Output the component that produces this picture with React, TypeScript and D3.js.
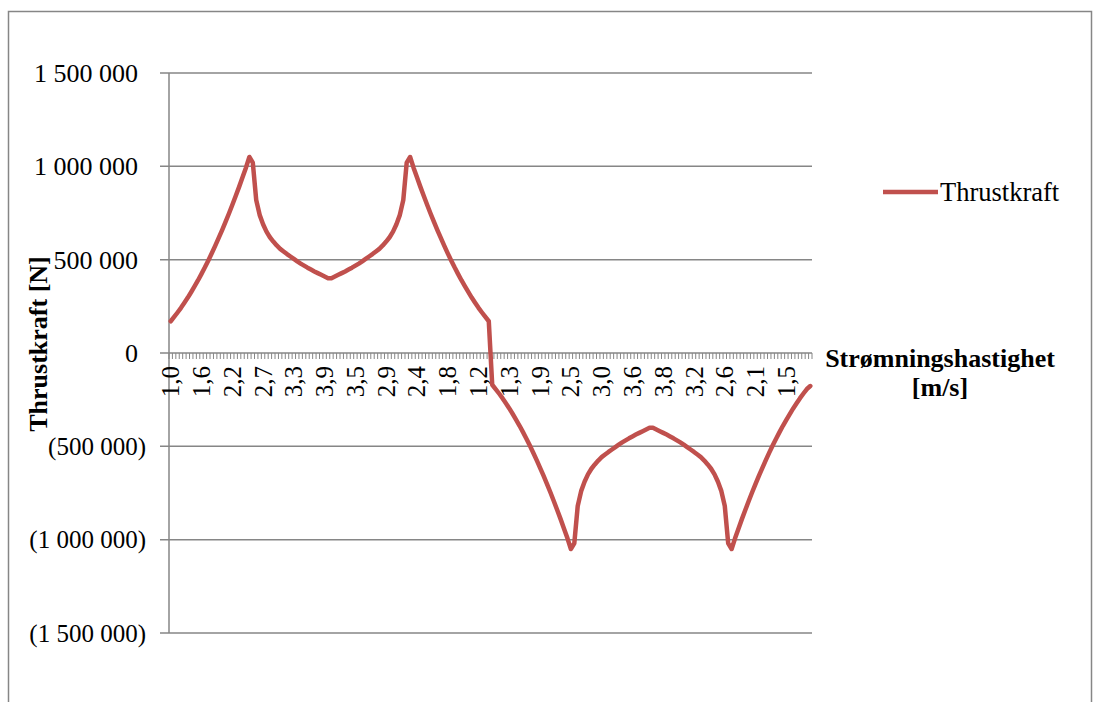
import React from "react";
import * as d3 from "d3";

// Category (velocity) labels shown on the axis, one every 9 categories
const velocityTickLabels = [
  "1,0", "1,6", "2,2", "2,7", "3,3", "3,9", "3,5", "2,9", "2,4", "1,8", "1,2",
  "1,3", "1,9", "2,5", "3,0", "3,6", "3,8", "3,2", "2,6", "2,1", "1,5",
];
const labelEvery = 9;

// Thrust [N], flood half (positive)
const thrustFlood = [
  170000, 193000, 217000, 242000, 269000, 297000, 327000, 358000, 390000, 424000,
  459000, 496000, 534000, 574000, 615000, 657000, 701000, 746000, 793000, 841000,
  890000, 941000, 993000, 1050000, 1020000, 820000, 740000, 690000, 650000, 620000,
  597000, 576000, 558000, 544000, 530000, 517000, 504000, 491000, 479000, 468000,
  457000, 447000, 437000, 428000, 419000, 410000, 401000, 401000, 410000, 419000,
  428000, 437000, 447000, 457000, 468000, 479000, 491000, 504000, 517000, 530000,
  544000, 558000, 576000, 597000, 620000, 650000, 690000, 740000, 820000, 1020000,
  1050000, 993000, 941000, 890000, 841000, 793000, 746000, 701000, 657000, 615000,
  574000, 534000, 496000, 459000, 424000, 390000, 358000, 327000, 297000, 269000,
  242000, 217000, 193000, 170000,
];

// Thrust [N], ebb half (negative)
const thrustEbb = [
  -170000, -193000, -217000, -242000, -269000, -297000, -327000, -358000, -390000, -424000,
  -459000, -496000, -534000, -574000, -615000, -657000, -701000, -746000, -793000, -841000,
  -890000, -941000, -993000, -1050000, -1020000, -820000, -740000, -690000, -650000, -620000,
  -597000, -576000, -558000, -544000, -530000, -517000, -504000, -491000, -479000, -468000,
  -457000, -447000, -437000, -428000, -419000, -410000, -401000, -401000, -410000, -419000,
  -428000, -437000, -447000, -457000, -468000, -479000, -491000, -504000, -517000, -530000,
  -544000, -558000, -576000, -597000, -620000, -650000, -690000, -740000, -820000, -1020000,
  -1050000, -993000, -941000, -890000, -841000, -793000, -746000, -701000, -657000, -615000,
  -574000, -534000, -496000, -459000, -424000, -390000, -358000, -327000, -297000, -269000,
  -242000, -217000, -193000, -177000,
];

const yTicks = [1500000, 1000000, 500000, 0, -500000, -1000000, -1500000];
const seriesName = "Thrustkraft";
const yTitle = "Thrustkraft [N]";
const xTitle1 = "Strømningshastighet";
const xTitle2 = "[m/s]";

const FONT = "'Liberation Serif', 'Times New Roman', serif";
const GRID = "#868686";
const RED = "#C0504D";

export default function App() {
  const values = [...thrustFlood, ...thrustEbb];
  const n = values.length;
  const left = 169;
  const right = 812;
  const top = 73;
  const bottom = 633;

  const x = d3.scaleBand<number>().domain(d3.range(n)).range([left, right]).padding(0);
  const y = d3.scaleLinear().domain([-1500000, 1500000]).range([bottom, top]);
  const cx = (i: number) => (x(i) as number) + x.bandwidth() / 2;

  const line = d3
    .line<number>()
    .x((_, i) => cx(i))
    .y((d) => y(d));

  const fmt = (v: number) => {
    const s = d3.format(",")(Math.abs(v)).replace(/,/g, " ");
    return v < 0 ? `(${s})` : s;
  };

  const y0 = y(0);
  const boundaries = d3.range(n + 1).map((k) => left + k * x.bandwidth());

  return (
    <svg
      width={1099}
      height={702}
      style={{ position: "absolute", left: 0, top: 0 }}
      fontFamily={FONT}
    >
      <rect x={0} y={0} width={1099} height={702} fill="#fff" />
      <rect x={8.5} y={11.5} width={1083} height={720} fill="none" stroke={GRID} strokeWidth={1.5} />

      {/* gridlines */}
      {yTicks.map((t) => (
        <line key={t} x1={160} x2={right} y1={y(t)} y2={y(t)} stroke={GRID} strokeWidth={1.5} />
      ))}
      {/* y axis */}
      <line x1={left} x2={left} y1={top} y2={bottom} stroke={GRID} strokeWidth={1.5} />
      {/* y tick labels */}
      {yTicks.map((t) => (
        <text key={"l" + t} x={t < 0 ? 146 : 138} y={y(t)} dy="0.34em" textAnchor="end" fontSize={t < 0 ? 25 : 26} fill="#000">
          {fmt(t)}
        </text>
      ))}
      {/* category ticks */}
      {boundaries.map((bx, k) => (
        <line key={"t" + k} x1={bx} x2={bx} y1={y0} y2={y0 + 6} stroke={GRID} strokeWidth={1} />
      ))}
      {/* category labels */}
      {velocityTickLabels.map((lab, j) => {
        const i = j * labelEvery;
        return (
          <text
            key={"c" + j}
            transform={`translate(${cx(i)},${y0 + 13}) rotate(-90)`}
            dy="0.34em"
            textAnchor="end"
            fontSize={25}
            fill="#000"
          >
            {lab}
          </text>
        );
      })}

      {/* series */}
      <path d={line(values) || ""} fill="none" stroke={RED} strokeWidth={4.5} strokeLinejoin="round" strokeLinecap="round" />

      {/* titles */}
      <text transform="translate(38,344) rotate(-90)" dy="0.34em" textAnchor="middle" fontSize={26} fontWeight="bold" fill="#000">
        {yTitle}
      </text>
      <text x={940} y={367} textAnchor="middle" fontSize={26} fontWeight="bold" fill="#000">
        {xTitle1}
      </text>
      <text x={940} y={396} textAnchor="middle" fontSize={26} fontWeight="bold" fill="#000">
        {xTitle2}
      </text>

      {/* legend */}
      <line x1={883} x2={938} y1={192} y2={192} stroke={RED} strokeWidth={4.5} />
      <text x={940} y={192} dy="0.34em" fontSize={26.5} fill="#000">
        {seriesName}
      </text>
    </svg>
  );
}
